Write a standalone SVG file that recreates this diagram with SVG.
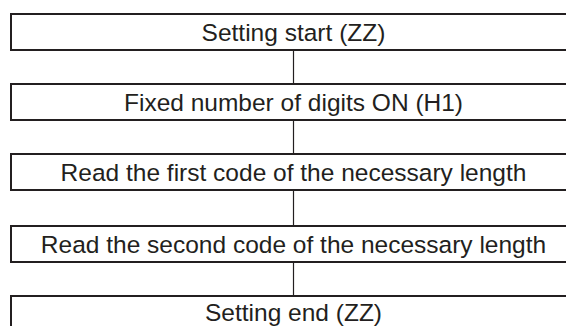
<svg xmlns="http://www.w3.org/2000/svg" width="566" height="326" viewBox="0 0 566 326">
<style>
.box{fill:#fff;stroke:#231f20;stroke-width:2}
.lbl{font-family:"Liberation Sans",Arial,sans-serif;font-size:24.5px;fill:#231f20;text-anchor:middle}
.conn{stroke:#231f20;stroke-width:1.2;fill:none}
</style>
<rect width="566" height="326" fill="#fff"/>
<g id="connectors">
<line class="conn" x1="293.5" y1="50" x2="293.5" y2="84"/>
<line class="conn" x1="293.5" y1="120" x2="293.5" y2="154"/>
<line class="conn" x1="293.5" y1="190" x2="293.5" y2="226"/>
<line class="conn" x1="293.5" y1="262" x2="293.5" y2="296"/>
</g>
<g id="n1"><rect class="box" x="11" y="14" width="566" height="36"/><text class="lbl" x="293.5" y="41">Setting start (ZZ)</text></g>
<g id="n2"><rect class="box" x="11" y="84" width="566" height="36"/><text class="lbl" x="293.5" y="111">Fixed number of digits ON (H1)</text></g>
<g id="n3"><rect class="box" x="11" y="154" width="566" height="36"/><text class="lbl" x="293.5" y="181">Read the first code of the necessary length</text></g>
<g id="n4"><rect class="box" x="11" y="226" width="566" height="36"/><text class="lbl" x="293.5" y="253">Read the second code of the necessary length</text></g>
<g id="n5"><rect class="box" x="11" y="296" width="566" height="36"/><text class="lbl" x="293.5" y="320.5">Setting end (ZZ)</text></g>
</svg>
